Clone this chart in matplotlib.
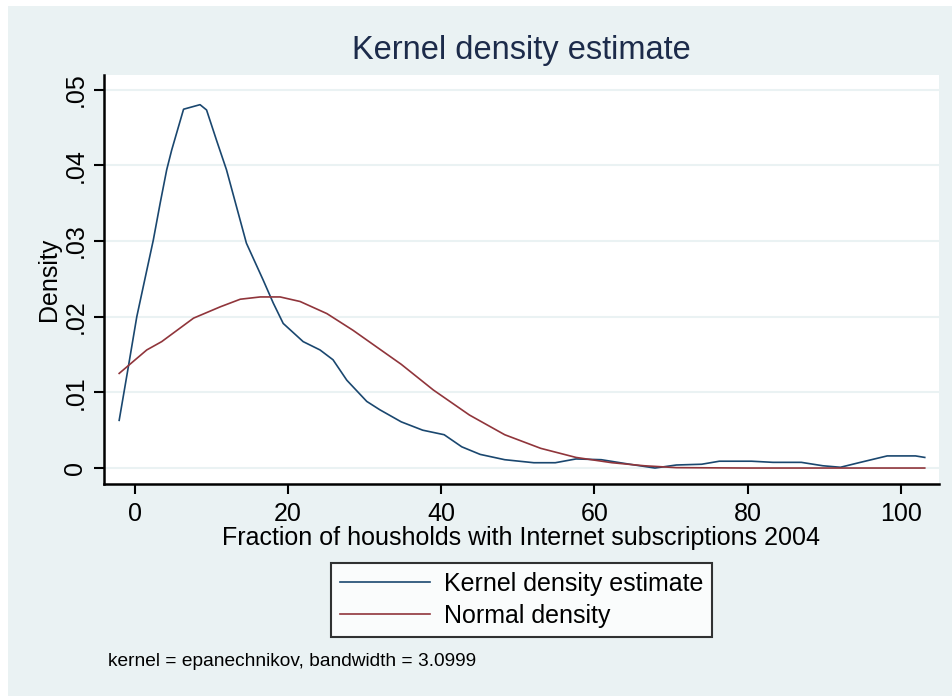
import matplotlib.pyplot as plt
from matplotlib.patches import Rectangle

# kernel density estimate, read on Stata's evaluation grid
kde_x = [-2.0, -0.8, 0.3, 1.15, 2.45, 3.35, 4.2, 4.85, 6.4, 8.55, 9.4, 10.7,
         12.0, 14.6, 16.8, 18.1, 19.4, 22.0, 24.2, 25.9, 27.7, 30.3, 32.0,
         34.8, 37.6, 40.4, 42.7, 45.1, 48.3, 52.1, 54.9, 57.6, 60.9, 64.6,
         67.9, 70.7, 74.0, 76.3, 80.5, 83.3, 87.0, 89.8, 92.1, 94.5, 98.2,
         101.9, 103.1]
kde_y = [0.0063, 0.0134, 0.0200, 0.0240, 0.0301, 0.0350, 0.0394, 0.0420,
         0.0474, 0.0480, 0.0473, 0.0433, 0.0394, 0.0297, 0.0248, 0.0218,
         0.0191, 0.0167, 0.0156, 0.0143, 0.0116, 0.0088, 0.0077, 0.0061,
         0.0050, 0.0044, 0.0028, 0.0018, 0.0011, 0.0007, 0.0007, 0.0012,
         0.0011, 0.0005, 0.0000, 0.0004, 0.0005, 0.0009, 0.0009, 0.00075,
         0.00075, 0.0003, 0.0001, 0.0007, 0.0016, 0.0016, 0.0014]

# normal density overlay
norm_x = [-2.0, 1.6, 3.55, 7.7, 11.2, 13.8, 16.4, 19.0, 21.6, 25.1, 28.5,
          32.0, 34.8, 39.0, 43.7, 48.3, 53.0, 57.6, 62.3, 66.5, 70.7, 80.0,
          90.0, 103.1]
norm_y = [0.0125, 0.0156, 0.0167, 0.0198, 0.0213, 0.0223, 0.0226, 0.0226,
          0.0220, 0.0204, 0.0182, 0.0157, 0.0137, 0.0103, 0.0070, 0.0044,
          0.0026, 0.0014, 0.0007, 0.0003, 0.00005, 0.0, 0.0, 0.0]

x_ticks = [0, 20, 40, 60, 80, 100]
y_ticks = [0, 0.01, 0.02, 0.03, 0.04, 0.05]
y_ticklabels = ['0', '.01', '.02', '.03', '.04', '.05']

BG = '#eaf2f3'
NAVY = '#1a476f'
MAROON = '#90353b'

plt.rcParams['font.family'] = ['Liberation Sans', 'DejaVu Sans']

fig = plt.figure(figsize=(9.52, 6.96), dpi=100, facecolor='white')
fig.patches.append(Rectangle((8 / 952, 0), 1, 1 - 6 / 696, transform=fig.transFigure,
                             facecolor=BG, edgecolor='none', zorder=-10))

ax = fig.add_axes([104 / 952, 1 - 484 / 696, 835 / 952, 409 / 696])
ax.set_facecolor('white')

ax.plot(kde_x, kde_y, color=NAVY, lw=1.2, label='Kernel density estimate', zorder=3)
ax.plot(norm_x, norm_y, color=MAROON, lw=1.2, label='Normal density', zorder=3)

ax.set_xlim(-3.98, 104.96)
ax.set_ylim(-0.00211, 0.05192)
ax.set_xticks(x_ticks)
ax.set_yticks(y_ticks)
ax.set_yticklabels(y_ticklabels, rotation=90, va='center')
ax.tick_params(axis='both', labelsize=18, length=7, width=1.5, color='black', pad=5)
ax.tick_params(axis='x', pad=6)
ax.grid(axis='y', color=BG, lw=1.5)
ax.set_axisbelow(True)

for side in ['top', 'right']:
    ax.spines[side].set_visible(False)
for side in ['left', 'bottom']:
    ax.spines[side].set_linewidth(1.8)
    ax.spines[side].set_color('black')

ax.set_xlabel('Fraction of housholds with Internet subscriptions 2004', fontsize=18, labelpad=0)
ax.set_ylabel('Density', fontsize=18, labelpad=2)
fig.text(521.5 / 952, 1 - 50 / 696, 'Kernel density estimate', fontsize=23.5,
         color='#1c2b4a', ha='center', va='center')

leg = fig.legend(loc='center', bbox_to_anchor=(521.5 / 952, 1 - 600 / 696), fontsize=18,
                 frameon=True, fancybox=False, edgecolor='black', handlelength=3.6,
                 handletextpad=0.55, labelspacing=0.32, borderpad=0.35, borderaxespad=0)
leg.get_frame().set_linewidth(1.5)

fig.text(108 / 952, 1 - 661 / 696, 'kernel = epanechnikov, bandwidth = 3.0999',
         fontsize=13.8, ha='left', va='center')

fig.savefig('out.png', dpi=100, facecolor=fig.get_facecolor())
